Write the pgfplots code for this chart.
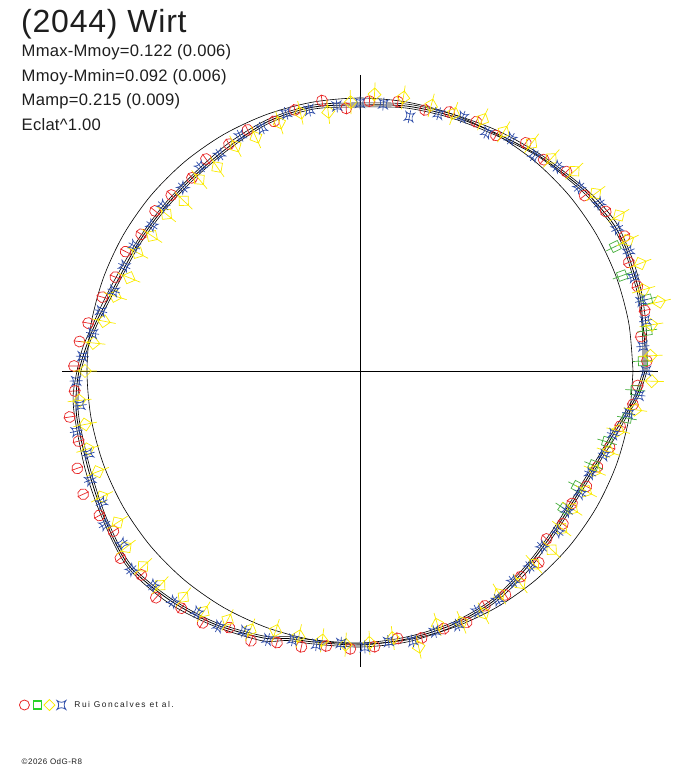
\documentclass[border=0pt]{standalone}
\usepackage{pgfplots}
\pgfplotsset{compat=1.18}
\usepgfplotslibrary{polar}
\usepackage{fontspec}
\setmainfont{Liberation Sans}
\newfontfamily\titlef[LetterSpace=2.5]{Liberation Sans}
\newfontfamily\subf[LetterSpace=1.5]{Liberation Sans}
\newfontfamily\legf[LetterSpace=18]{Liberation Sans}
\newfontfamily\copyf[LetterSpace=6]{Liberation Sans}
\definecolor{ctext}{RGB}{30,30,30}
\definecolor{cred}{RGB}{232,40,40}
\definecolor{cgreen}{RGB}{70,175,60}
\definecolor{clgreen}{RGB}{40,210,40}
\definecolor{cyellow}{RGB}{250,235,0}
\definecolor{cblue}{RGB}{50,80,170}

\def\myang{0}
\pgfdeclareplotmark{rcE}{%
  \pgftransformrotate{\myang}%
  \pgfpathcircle{\pgfpointorigin}{5.5pt}%
  \pgfpathmoveto{\pgfqpoint{-6pt}{0pt}}\pgfpathlineto{\pgfqpoint{6pt}{0pt}}%
  \pgfusepathqstroke}
\pgfdeclareplotmark{gsE}{%
  \pgftransformrotate{\myang}%
  \pgfpathrectangle{\pgfqpoint{-4.5pt}{-4.5pt}}{\pgfqpoint{9pt}{9pt}}%
  \pgfpathmoveto{\pgfqpoint{-10pt}{0pt}}\pgfpathlineto{\pgfqpoint{10pt}{0pt}}%
  \pgfusepathqstroke}
\pgfdeclareplotmark{ydE}{%
  \pgftransformrotate{\myang}%
  \pgfpathmoveto{\pgfqpoint{6.5pt}{0pt}}\pgfpathlineto{\pgfqpoint{0pt}{6.5pt}}%
  \pgfpathlineto{\pgfqpoint{-6.5pt}{0pt}}\pgfpathlineto{\pgfqpoint{0pt}{-6.5pt}}\pgfpathclose
  \pgfpathmoveto{\pgfqpoint{-12pt}{0pt}}\pgfpathlineto{\pgfqpoint{12pt}{0pt}}%
  \pgfusepathqstroke}
\pgfdeclareplotmark{bs}{%
  \pgfpathmoveto{\pgfqpoint{4.5pt}{4.5pt}}%
  \pgfpathquadraticcurveto{\pgfqpoint{0pt}{1pt}}{\pgfqpoint{-4.5pt}{4.5pt}}%
  \pgfpathquadraticcurveto{\pgfqpoint{-1pt}{0pt}}{\pgfqpoint{-4.5pt}{-4.5pt}}%
  \pgfpathquadraticcurveto{\pgfqpoint{0pt}{-1pt}}{\pgfqpoint{4.5pt}{-4.5pt}}%
  \pgfpathquadraticcurveto{\pgfqpoint{1pt}{0pt}}{\pgfqpoint{4.5pt}{4.5pt}}%
  \pgfpathclose
  \pgfusepathqstroke}
\pgfdeclareplotmark{bsE}{%
  \pgftransformrotate{\myang}%
  \pgfpathmoveto{\pgfqpoint{4.5pt}{4.5pt}}%
  \pgfpathquadraticcurveto{\pgfqpoint{0pt}{1pt}}{\pgfqpoint{-4.5pt}{4.5pt}}%
  \pgfpathquadraticcurveto{\pgfqpoint{-1pt}{0pt}}{\pgfqpoint{-4.5pt}{-4.5pt}}%
  \pgfpathquadraticcurveto{\pgfqpoint{0pt}{-1pt}}{\pgfqpoint{4.5pt}{-4.5pt}}%
  \pgfpathquadraticcurveto{\pgfqpoint{1pt}{0pt}}{\pgfqpoint{4.5pt}{4.5pt}}%
  \pgfpathclose
  \pgfpathmoveto{\pgfqpoint{-6.5pt}{0pt}}\pgfpathlineto{\pgfqpoint{6.5pt}{0pt}}%
  \pgfusepathqstroke}

\pgfplotsset{
  obs/.style={scatter, only marks, mark=#1, forget plot,
    visualization depends on={\thisrowno{0}\as\myang},
    mark options={line width=0.7pt, solid}},
}

% angle (deg)  radius
\pgfplotstableread{
2 287
7 283
12 291
17 290
22 290
27 297
33 293
38 285
44 287
49 280
54 282
60 272
65 275
71 274
76 269
82 272
88 270
93 263
98 273
104 269
109 264
115 266
120 262
126 262
131 256
137 258
142 260
148 258
153 263
159 262
164 268
170 276
174 282
179 286
184 286
189 294
194 290
199 299
204 303
209 298
213 294
218 304
223 299
228 305
233 297
238 297
243 288
248 291
253 284
258 282
263 277
268 278
273 276
278 270
283 274
288 271
293 273
298 266
303 267
308 261
313 262
318 251
323 254
328 250
333 254
338 256
343 261
348 266
353 275
357 278
}\redtab

\pgfplotstableread{
2 283
8 290
14 296
20 279
26 284
356 276
350 271
344 257
338 252
332 246
326 246
}\greentab

\pgfplotstableread{
3 291
9 295
13 307
16 295
21 300
26 298
31 302
37 295
43 293
48 286
53 285
59 279
64 280
70 274
75 275
81 277
87 277
92 269
97 261
103 265
108 261
114 256
119 257
125 249
130 250
136 245
141 249
147 248
152 252
158 249
163 256
169 261
174 268
180 275
186 282
191 280
196 283
201 281
206 287
212 286
217 293
222 292
227 293
232 287
237 287
242 282
247 281
252 273
257 272
262 272
267 274
272 272
277 269
282 282
287 265
292 271
297 272
302 263
307 266
312 260
317 262
322 256
327 253
332 256
337 255
342 261
347 265
352 278
358 292
}\yellowtab

\pgfplotstableread{
0 286
5 284
10 290
14 290
19 289
24 294
29 294
35 292
40 286
46 284
51 277
57 277
62 270
68 274
73 269
79 259
85 268
90 268
95 266
101 266
106 268
112 262
117 264
123 258
128 259
134 255
140 257
145 254
151 258
156 258
162 259
167 266
172 270
177 278
182 284
187 282
192 290
197 284
202 291
207 290
211 298
216 294
221 303
226 298
231 297
236 291
241 292
246 285
251 284
256 277
261 277
266 273
271 276
276 272
281 275
286 271
291 272
296 267
301 267
306 260
311 259
316 253
321 255
326 250
331 252
336 252
341 258
346 261
351 272
355 280
}\bluetab

\pgfplotstableread{
0 285
5 286
10 287
15 290
20 291
25 293
30 293
35 290
40 287
50 280
60 274
70 271
80 269
90 266
100 268
110 266
120 260
130 256
140 255
150 256
160 259
165 263
170 269
175 275
180 281
185 285
190 287
200 289
210 295
220 302
230 298
240 292
250 284
255 277
260 275
270 274
280 272
290 270
300 266
310 258
320 252
330 250
340 255
345 260
350 268
355 278
360 285
}\curveA

\pgfplotstableread{
0 287
5 288
10 290
15 292
20 294
25 295
30 296
35 293
40 289
50 282
60 277
70 273
80 271
90 268
100 270
110 268
120 263
130 258
140 257
150 258
160 262
165 266
170 271
175 278
180 283
185 288
190 289
200 292
210 297
220 304
230 301
240 294
250 287
255 279
260 277
270 276
280 275
290 272
300 268
310 261
320 254
330 252
340 257
345 263
350 270
355 280
360 287
}\curveB

\pgfplotstableread{
0 283
5 284
10 286
15 288
20 289
25 291
30 291
35 288
40 285
50 279
60 272
70 269
80 267
90 264
100 266
110 264
120 258
130 254
140 253
150 254
160 257
165 261
170 267
175 273
180 279
185 283
190 285
200 287
210 293
220 300
230 296
240 290
250 282
255 275
260 273
270 272
280 270
290 268
300 264
310 256
320 250
330 248
340 253
345 258
350 266
355 276
360 283
}\curveC

\pgfplotstableread{
0 273
10 273
20 273
30 273
40 273
50 273
60 273
70 273
80 273
90 273
100 273
110 273
120 273
130 273
140 273
150 273
160 273
170 273
180 273
190 273
200 273
210 273
220 273
230 273
240 273
250 273
260 273
270 273
280 273
290 273
300 273
310 273
320 273
330 273
340 273
350 273
360 273
}\circtab

\begin{document}
\begin{tikzpicture}
\path[use as bounding box] (0pt,0pt) rectangle (688pt,768pt);
\begin{polaraxis}[
  at={(360pt,397pt)}, anchor=center,
  scale only axis, width=594pt, height=594pt,
  ymin=0, ymax=297,
  hide axis, clip=false,
  legend style={at={(-0.074,-0.0623)}, anchor=west, draw=none, fill=none,
    inner sep=0pt, outer sep=0pt, font=\legf\fontsize{8.4}{10}\selectfont,
    text=ctext, cells={anchor=west}},
]
% axis cross
\addplot[black, line width=0.7pt, forget plot] coordinates {(0,298) (180,298)};
\addplot[black, line width=0.7pt, forget plot] coordinates {(90,296) (270,296)};
% reference circle
\addplot[black, line width=0.6pt, smooth, forget plot] table {\circtab};
% observations
\addplot[obs=rcE, scatter/use mapped color={draw=cred, fill=none}] table {\redtab};
\addplot[obs=gsE, scatter/use mapped color={draw=cgreen, fill=none}] table {\greentab};
\addplot[obs=ydE, scatter/use mapped color={draw=cyellow, fill=none}] table {\yellowtab};
\addplot[obs=bsE, scatter/use mapped color={draw=cblue, fill=none}] table {\bluetab};
% fitted light curve
\addplot[black, line width=0.6pt, smooth, forget plot] table {\curveB};
\addplot[black, line width=0.6pt, smooth, forget plot] table {\curveC};
\addplot[black, line width=0.8pt, smooth, forget plot] table {\curveA};
\addlegendimage{legend image code/.code={
  \draw[draw=cred, line width=0.8pt] (5pt,0pt) circle[radius=5pt];
  \draw[color=clgreen, draw=clgreen, line width=1.2pt] (14pt,-4pt) -- (22pt,-4pt) -- (22pt,4pt) -- (14pt,4pt) -- cycle;
  \draw[draw=cyellow, line width=0.8pt] (24.5pt,0pt) -- (30pt,5.5pt) -- (35.5pt,0pt) -- (30pt,-5.5pt) -- cycle;
  \begin{scope}[draw=cblue, color=cblue, line width=0.8pt]
    \pgftransformshift{\pgfqpoint{42pt}{0pt}}\pgfuseplotmark{bs}
  \end{scope}
  \path[draw=none] (0pt,0pt) -- (53pt,0pt);
}}
\addlegendentry{Rui Goncalves et al.}
\end{polaraxis}
\node[anchor=base west, inner sep=0pt, text=ctext] at (21pt,735pt)
  {\titlef\fontsize{32}{36}\selectfont (2044) Wirt};
\node[anchor=base west, inner sep=0pt, text=ctext] at (21.5pt,711pt)
  {\subf\fontsize{16.6}{20}\selectfont Mmax-Mmoy=0.122 (0.006)};
\node[anchor=base west, inner sep=0pt, text=ctext] at (21.5pt,686pt)
  {\subf\fontsize{16.6}{20}\selectfont Mmoy-Mmin=0.092 (0.006)};
\node[anchor=base west, inner sep=0pt, text=ctext] at (21.5pt,662pt)
  {\subf\fontsize{16.6}{20}\selectfont Mamp=0.215 (0.009)};
\node[anchor=base west, inner sep=0pt, text=ctext] at (21.5pt,637pt)
  {\subf\fontsize{16.6}{20}\selectfont Eclat\^{}1.00};
\node[anchor=base west, inner sep=0pt, text=ctext] at (21.5pt,3pt)
  {\copyf\fontsize{8}{9}\selectfont ©2026 OdG-R8};
\end{tikzpicture}
\end{document}
